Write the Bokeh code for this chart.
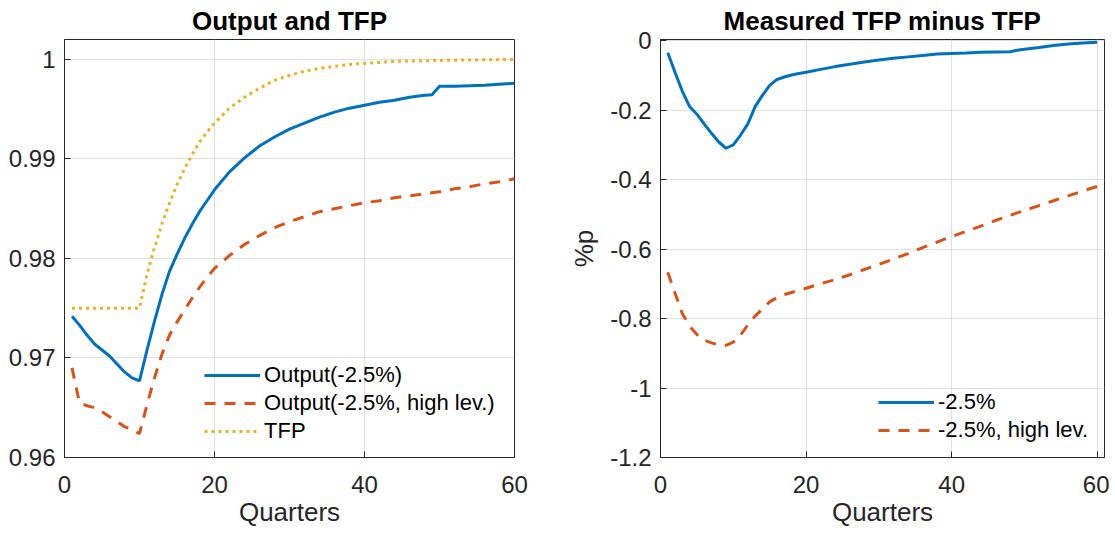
from bokeh.plotting import figure
from bokeh.layouts import row
from bokeh.models import (Range1d, FixedTicker, Legend, LegendItem,
                          CustomJSTickFormatter)
from bokeh.embed import file_html
from bokeh.resources import INLINE

# ---------------- data ----------------
quarters = [1, 2, 3, 4, 5, 6, 7, 8, 9, 10, 11, 12, 13, 14, 15, 16, 17, 18, 19, 20,
            22, 24, 26, 28, 30, 32, 34, 36, 38, 40, 42, 44, 46, 48, 49, 50,
            52, 54, 56, 58, 60]

output_base = [0.9742, 0.9733, 0.9723, 0.9714, 0.9708, 0.9702, 0.9694, 0.9686, 0.9680, 0.9677,
               0.9708, 0.9737, 0.9764, 0.9787, 0.9804, 0.9820, 0.9834, 0.9847, 0.9858, 0.9869,
               0.9887, 0.9901, 0.9913, 0.9922, 0.9930, 0.9936, 0.9942, 0.9947, 0.9951, 0.9954,
               0.9957, 0.9959, 0.9962, 0.9964, 0.99645, 0.9973,
               0.9973, 0.99735, 0.9974, 0.9975, 0.9976]

output_high = [0.9690, 0.9655, 0.9652, 0.9650, 0.9646, 0.9641, 0.9636, 0.9631, 0.9628, 0.9624,
               0.9653, 0.9680, 0.9704, 0.9723, 0.9736, 0.9748, 0.9760, 0.9771, 0.9781, 0.9790,
               0.9803, 0.9814, 0.9823, 0.9831, 0.9837, 0.9842, 0.9847, 0.9850, 0.9853, 0.9856,
               0.9858, 0.9861, 0.9863, 0.9865, 0.9866, 0.9867,
               0.9870, 0.9872, 0.9875, 0.9877, 0.9880]

tfp = [0.975, 0.975, 0.975, 0.975, 0.975, 0.975, 0.975, 0.975, 0.975, 0.975,
       0.9784, 0.9811, 0.9835, 0.9856, 0.9874, 0.9890, 0.9904, 0.9917, 0.9927, 0.9936,
       0.9951, 0.9962, 0.9971, 0.9979, 0.9984, 0.9988, 0.9991, 0.9993, 0.9995, 0.9996,
       0.9997, 0.9998, 0.99983, 0.99986, 0.99988, 0.9999,
       0.99992, 0.99994, 0.99996, 0.99998, 1.0]

gap_base = [-0.035, -0.092, -0.146, -0.190, -0.212, -0.240, -0.267, -0.292, -0.310, -0.300,
            -0.272, -0.240, -0.190, -0.158, -0.129, -0.112, -0.105, -0.099, -0.095, -0.091,
            -0.083, -0.075, -0.068, -0.062, -0.056, -0.051, -0.047, -0.043, -0.039, -0.037,
            -0.036, -0.034, -0.033, -0.032, -0.028, -0.025,
            -0.020, -0.014, -0.010, -0.007, -0.005]

gap_high = [-0.667, -0.727, -0.786, -0.822, -0.846, -0.862, -0.870, -0.876, -0.877, -0.868,
            -0.848, -0.818, -0.793, -0.772, -0.752, -0.740, -0.731, -0.725, -0.719, -0.713,
            -0.700, -0.688, -0.674, -0.659, -0.644, -0.629, -0.613, -0.596, -0.580, -0.564,
            -0.549, -0.534, -0.518, -0.503, -0.496, -0.489,
            -0.475, -0.461, -0.447, -0.433, -0.420]

x_ticks = [0, 20, 40, 60]
x_labels = ["0", "20", "40", "60"]
left_y_ticks = [0.96, 0.97, 0.98, 0.99, 1.0]
left_y_labels = ["0.96", "0.97", "0.98", "0.99", "1"]
right_y_ticks = [-1.2, -1.0, -0.8, -0.6, -0.4, -0.2, 0.0]
right_y_labels = ["-1.2", "-1", "-0.8", "-0.6", "-0.4", "-0.2", "0"]

left_title = "Output and TFP"
right_title = "Measured TFP minus TFP"
x_title = "Quarters"
right_y_title = "%p"
left_names = ["Output(-2.5%)", "Output(-2.5%, high lev.)", "TFP"]
right_names = ["-2.5%", "-2.5%, high lev."]

# ---------------- style ----------------
FONT = "Liberation Sans"
AX = "#262626"
GRID = "#dfdfdf"
BLUE = "#0072BD"
ORANGE = "#D95319"
YELLOW = "#EDB120"
TICK_FS = "24px"
LABEL_FS = "26px"
TITLE_FS = "26px"
LEG_FS = "22px"
FIG_H = 529


def fmt(ticks, labels):
    return CustomJSTickFormatter(args=dict(t=ticks, l=labels), code="""
        for (let i = 0; i < t.length; i++) {
            if (Math.abs(t[i] - tick) < 1e-9) { return l[i]; }
        }
        return "";
    """)


def style_axis(ax, ticks, labels):
    ax.ticker = FixedTicker(ticks=ticks)
    ax.formatter = fmt(ticks, labels)
    ax.major_tick_in = 6
    ax.major_tick_out = 0
    ax.minor_tick_line_color = None
    ax.axis_line_color = AX
    ax.major_tick_line_color = AX
    ax.major_label_text_color = AX
    ax.major_label_text_font = FONT
    ax.major_label_text_font_size = TICK_FS
    ax.axis_label_text_font = FONT
    ax.axis_label_text_font_size = LABEL_FS
    ax.axis_label_text_font_style = "normal"
    ax.axis_label_text_color = AX


def make_fig(width, mbl, mbr, xr, yr, yt, yl, title):
    p = figure(width=width, height=FIG_H, x_range=Range1d(*xr), y_range=Range1d(*yr),
               output_backend="svg", toolbar_location=None,
               min_border_left=mbl, min_border_right=mbr,
               min_border_top=38, min_border_bottom=70)
    p.title.text = title
    p.title.text_font = FONT
    p.title.text_font_size = TITLE_FS
    p.title.text_font_style = "bold"
    p.title.text_color = "#000000"
    p.title.align = "center"
    p.title.standoff = 7
    p.outline_line_color = AX
    p.outline_line_width = 1
    p.outline_line_alpha = 1
    p.background_fill_color = "white"
    p.border_fill_color = "white"

    style_axis(p.xaxis[0], x_ticks, x_labels)
    p.xaxis[0].major_label_standoff = 18
    p.xaxis[0].axis_label_standoff = 1
    p.xaxis[0].axis_label = x_title
    style_axis(p.yaxis[0], yt, yl)
    p.yaxis[0].major_label_standoff = 9

    p.xgrid.ticker = FixedTicker(ticks=x_ticks)
    p.ygrid.ticker = FixedTicker(ticks=yt)
    p.xgrid.grid_line_color = GRID
    p.ygrid.grid_line_color = GRID
    p.xgrid.grid_line_width = 1
    p.ygrid.grid_line_width = 1
    return p


def make_legend(items, loc):
    return Legend(items=items, location=loc, label_text_font=FONT,
                  label_text_font_size=LEG_FS, label_text_color="#000000",
                  glyph_width=56, glyph_height=22, label_height=22,
                  label_standoff=4, spacing=2, padding=0, margin=0,
                  border_line_color=None, background_fill_alpha=0)


# ---------------- left panel ----------------
p1 = make_fig(566, 64, 52, (0, 60), (0.96, 1.002), left_y_ticks, left_y_labels, left_title)
r1 = p1.line(quarters, output_base, line_color=BLUE, line_width=3)
r2 = p1.line(quarters, output_high, line_color=ORANGE, line_width=3, line_dash="11 9")
r3 = p1.line(quarters, tfp, line_color=YELLOW, line_width=3, line_dash="3 4")
p1.add_layout(make_legend([LegendItem(label=left_names[0], renderers=[r1]),
                           LegendItem(label=left_names[1], renderers=[r2]),
                           LegendItem(label=left_names[2], renderers=[r3])], (140, 13)))

# ---------------- right panel ----------------
p2 = make_fig(543, 90, 5, (0, 61), (-1.2, 0.003), right_y_ticks, right_y_labels, right_title)
p2.yaxis[0].axis_label = right_y_title
p2.yaxis[0].axis_label_standoff = 8
s1 = p2.line(quarters, gap_base, line_color=BLUE, line_width=3)
s2 = p2.line(quarters, gap_high, line_color=ORANGE, line_width=3, line_dash="11 9")
p2.add_layout(make_legend([LegendItem(label=right_names[0], renderers=[s1]),
                           LegendItem(label=right_names[1], renderers=[s2])], (218, 14)))

layout = row(p1, p2)
open("out.html", "w").write(file_html(layout, INLINE))
